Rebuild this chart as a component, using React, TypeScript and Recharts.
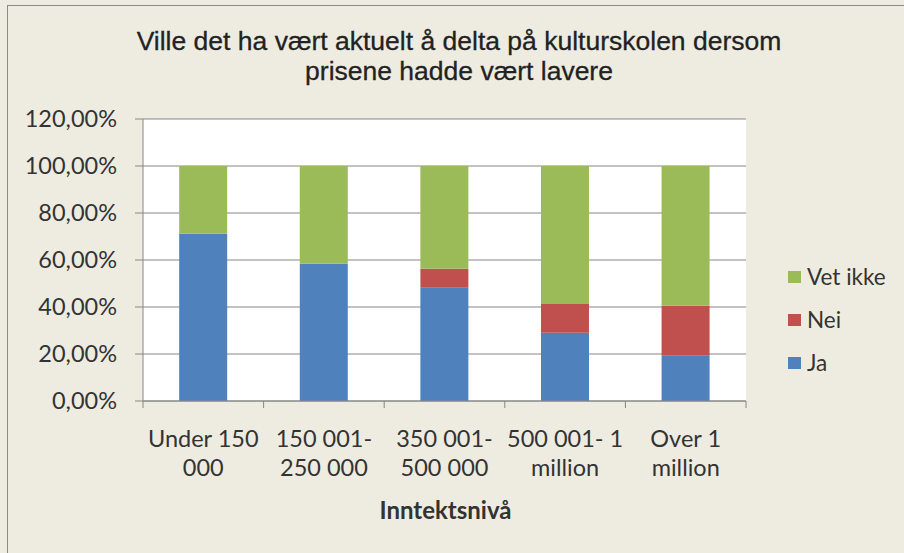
import { BarChart, Bar, XAxis, YAxis, CartesianGrid } from 'recharts';

const categories = ['Under 150 000', '150 001-250 000', '350 001-500 000', '500 001- 1 million', 'Over 1 million'];
const tickLines = [
  ['Under 150', '000'],
  ['150 001-', '250 000'],
  ['350 001-', '500 000'],
  ['500 001- 1', 'million'],
  ['Over 1', 'million'],
];
const ja = [0.712, 0.584, 0.482, 0.29, 0.193];
const nei = [0, 0, 0.081, 0.123, 0.212];
const vetIkke = [0.288, 0.416, 0.437, 0.587, 0.595];
const yTicks = [0, 0.2, 0.4, 0.6, 0.8, 1.0, 1.2];

const series = [
  { key: 'ja', name: 'Ja', color: '#4F81BD' },
  { key: 'nei', name: 'Nei', color: '#C0504D' },
  { key: 'vetIkke', name: 'Vet ikke', color: '#9BBB59' },
];

const data = categories.map((name, i) => ({
  name,
  ja: ja[i],
  nei: nei[i],
  vetIkke: vetIkke[i],
}));

const FONT = 'Lato, "Noto Sans", sans-serif';
const AXIS_GRAY = '#868686';
const TEXT = '#333333';
const BAND = 603 / categories.length;

const pct = (v: number) => (v * 100).toFixed(2).replace('.', ',') + '%';

function XTick(props: any) {
  const { x, y, index } = props;
  const lines = tickLines[index] || [];
  const axisY = y - 7;
  return (
    <g>
      <line x1={x - BAND / 2} y1={axisY} x2={x - BAND / 2} y2={axisY + 7} stroke={AXIS_GRAY} />
      {index === categories.length - 1 && (
        <line x1={x + BAND / 2} y1={axisY} x2={x + BAND / 2} y2={axisY + 7} stroke={AXIS_GRAY} />
      )}
      <text x={x} y={y} textAnchor="middle" fill={TEXT} fontSize={23.5} fontFamily={FONT}>
        {lines.map((l, i) => (
          <tspan key={i} x={x} dy={i === 0 ? 39 : 29}>{l}</tspan>
        ))}
      </text>
    </g>
  );
}

function LegendBox() {
  return (
    <div style={{ position: 'absolute', left: 788, top: 255, fontFamily: FONT, fontSize: 22.5, color: TEXT }}>
      {[...series].reverse().map((s) => (
        <div key={s.key} style={{ display: 'flex', alignItems: 'center', height: 43 }}>
          <span style={{ width: 13, height: 12, background: s.color, marginRight: 6, display: 'inline-block' }} />
          <span>{s.name}</span>
        </div>
      ))}
    </div>
  );
}

export default function App() {
  return (
    <div style={{ position: 'absolute', left: 0, top: 0, width: 904, height: 553, background: '#EEECE1', overflow: 'hidden' }}>
      <div style={{ position: 'absolute', left: 7, top: 5, width: 1000, height: 1000, border: '1px solid #8a8a8a' }} />
      <div
        style={{
          position: 'absolute',
          left: 0,
          top: 26,
          width: 918,
          textAlign: 'center',
          fontFamily: '"Liberation Sans", Arial, sans-serif',
          fontSize: 26.5,
          lineHeight: '30px',
          color: '#222222',
          WebkitTextStroke: '0.3px #222222',
        }}
      >
        Ville det ha vært aktuelt å delta på kulturskolen dersom
        <br />
        prisene hadde vært lavere
      </div>
      <div
        style={{
          position: 'absolute',
          left: 144,
          width: 603,
          top: 495,
          textAlign: 'center',
          fontFamily: FONT,
          fontSize: 24,
          fontWeight: 'bold',
          color: TEXT,
        }}
      >
        Inntektsnivå
      </div>
      <BarChart
        width={904}
        height={553}
        data={data}
        margin={{ top: 119, right: 158, bottom: 0, left: 0 }}
        barCategoryGap="30%"
        style={{ position: 'absolute', left: 0, top: 0 }}
      >
        <CartesianGrid vertical={false} stroke={AXIS_GRAY} fill="#ffffff" />
        <XAxis
          dataKey="name"
          interval={0}
          tickLine={false}
          tickSize={7}
          tickMargin={0}
          height={152}
          stroke={AXIS_GRAY}
          tick={<XTick />}
        />
        <YAxis
          domain={[0, 1.2]}
          ticks={yTicks}
          tickFormatter={pct}
          width={143}
          tickSize={8}
          tickMargin={18}
          stroke={AXIS_GRAY}
          tick={{ fill: TEXT, fontSize: 23.5, fontFamily: FONT }}
          interval={0}
        />
        {series.map((s) => (
          <Bar key={s.key} dataKey={s.key} name={s.name} stackId="a" fill={s.color} isAnimationActive={false} />
        ))}
      </BarChart>
      <LegendBox />
    </div>
  );
}
